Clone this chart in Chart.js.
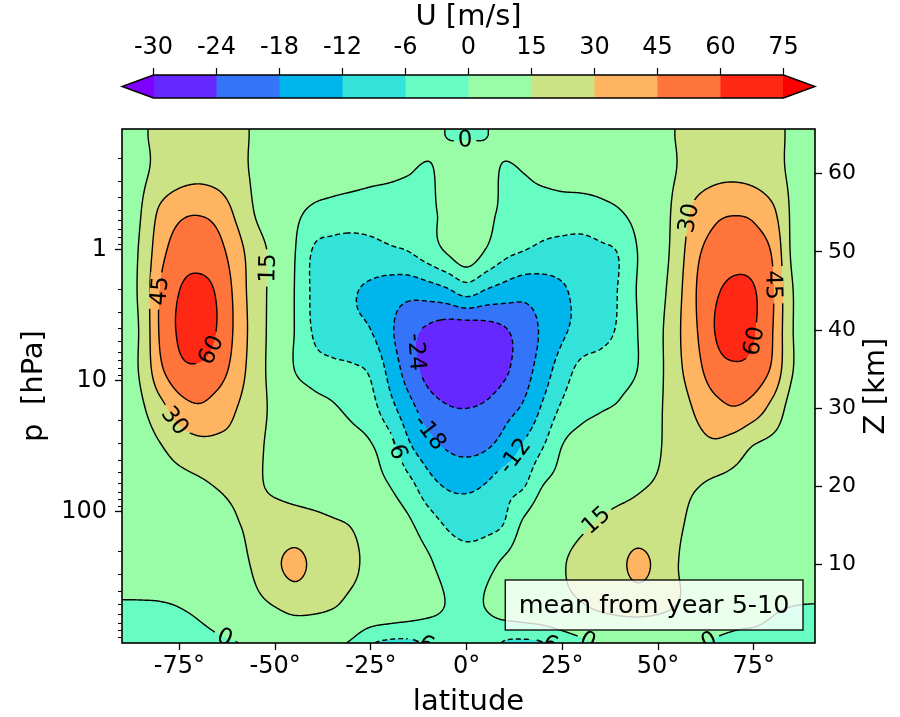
<!DOCTYPE html>
<html>
<head>
<meta charset="utf-8">
<script src="https://cdn.jsdelivr.net/npm/chart.js@4.4.0/dist/chart.umd.min.js"></script>
<style>
  body { margin: 0; background: #ffffff; }
</style>
</head>
<body>
<canvas id="graficoVento" width="900" height="717"></canvas>
<script>

// grade: latitude (graus) x altura (km), vento zonal U em m/s
const latitudes = [-90, -85, -80, -75, -70, -65, -60, -55, -50, -45, -40, -35, -30, -25, -20, -15, -10, -5, 0,
                   5, 10, 15, 20, 25, 30, 35, 40, 45, 50, 55, 60, 65, 70, 75, 80, 85, 90];
const alturasKm = [0, 5, 10, 15, 20, 25, 30, 35, 40, 45, 50, 55, 60, 65];

const ventoU = [
  [-2, -2, -2, -1.8, -1.5, -0.8, -0.1, 1.5, 3, 4, 3.5, 1.5, -0.8, -5.5, -6.8, -6.8, -5.5, -3, -2.5, -4, -6.4, -6.8, -6.3, -4, -1.5, 1, 3, 4, 3.5, 2, 0.5, -0.5, -1, -1, -1, -1.5, -1.5],
  [-0.3, -0.3, -0.2, 0.3, 1.5, 4, 8, 12, 16, 20, 19, 16.5, 12, 9, 7, 5, 2.5, -0.3, -1.5, 0.3, 4, 6, 8, 11, 14.5, 18, 20, 21, 19, 15, 10, 5, 3, 2, 0.8, 0.2, 0],
  [3, 3.5, 4, 5, 6, 8.5, 12, 17, 27, 34, 27, 21, 17, 12, 7, 3.5, 1, -2.5, -3.5, -2, 1.5, 5, 9, 14, 19, 23, 27, 34, 26, 15.5, 10, 7, 6, 5, 5, 5, 5],
  [4, 5, 6, 7, 9, 12, 14.5, 17, 20, 21, 19.5, 17, 14.5, 9, 4, 1, -3, -6.5, -8, -7.5, -5.5, 1.5, 6, 9, 13, 17, 20, 21, 19.5, 16.5, 12, 9, 7, 6, 5.5, 5, 4.5],
  [5, 6, 8, 10, 12.5, 15.5, 17, 16, 13.5, 11, 8.5, 6, 4, 2, 0, -4, -9.5, -12.5, -13, -11.5, -8, -6.2, 0.2, 2.5, 5, 8, 11, 14, 16, 17.5, 15.5, 12, 10, 8, 7, 6, 5],
  [7, 9, 14, 21, 25, 26, 25, 17.5, 12, 9, 6, 4, 2.5, 0.5, -3.5, -11, -15.5, -18.5, -19.5, -18.5, -15.5, -11, -6, 0.2, 3, 5, 7, 10, 14, 20, 25, 27, 22, 14, 11, 9, 8],
  [9, 13, 25, 38, 43, 38, 30, 20, 12, 7, 3, 0.8, -1.5, -4, -10, -16, -21, -23.5, -24, -23, -20, -17, -11, -5, -2, -0.5, 1, 5, 13, 22, 32, 40, 44, 38, 25, 10, 8],
  [11, 17, 42, 56, 58, 52, 38, 21, 10, 0, -3.5, -4.5, -5.2, -7, -14, -21, -26, -28.5, -29, -28, -25, -20.5, -15, -9, -4.5, -3.5, -2.5, 0.5, 11, 26, 40, 54, 58, 55, 42, 16, 10],
  [11, 17, 47, 62, 67, 59, 41, 22, 10, 0, -6.5, -9, -10.5, -12, -17, -22, -25, -27, -27.5, -26.5, -24.5, -21, -17, -13, -10, -8, -5, 0.5, 11, 27, 44, 60.5, 65, 61, 45, 16, 10],
  [11, 18, 46, 60, 64, 58, 40, 21, 11, 0, -7, -10, -11.5, -13, -15, -16, -15, -13, -9.5, -12.5, -14.5, -16, -15, -12.8, -10, -8, -5.5, 1, 9, 25, 45, 58, 63, 61, 46, 16, 10],
  [11, 17, 40, 52, 54, 50, 36, 21, 11, 0.5, -6.5, -8, -8.5, -8, -7, -6, -3, 0.5, 4, -0.5, -4.5, -6.2, -7.5, -8, -8, -7, -5.5, 0.5, 7, 22, 42, 50, 54, 52, 43, 13, 10],
  [11, 15, 33, 42, 44, 40, 27, 14, 8, 2, -1.5, -2.5, -3, -3, -2.5, -2, -1.2, 1.5, 3, 1.5, -1.2, -2, -3, -3, -3, -2, -0.5, 3, 9, 19, 35, 42, 44, 42, 33, 13, 10],
  [12, 13, 19, 24, 26, 24, 19, 13, 10, 7, 5, 3.5, 2.5, 1.5, 0.8, 0.1, -0.8, 2.5, 4, 2.5, -0.8, 0, 1.5, 2.5, 3, 3.5, 5, 8, 12, 15.3, 22, 26, 27, 25, 20, 13, 12],
  [12, 14, 17, 20, 21, 20, 17, 14, 12, 10, 9, 8, 7, 6, 5, 4, 2, -0.2, -0.4, -0.2, 2, 4, 6, 7, 8, 9, 10, 11, 13, 15.3, 18, 21, 22, 21, 18, 13.5, 12]
];

const niveis = [-30, -24, -18, -12, -6, 0, 15, 30, 45, 60, 75];
const cores = ["#6628fe", "#3374f8", "#00b4ec", "#33e3d9", "#66fcc2", "#99fca6", "#cce385", "#ffb462", "#ff743b", "#ff2814"];
const corAbaixo = "#8000ff";
const corAcima = "#ff0000";

// rótulos dos contornos: [latitude, altura km, texto]
const rotulos = [
  [-0.5, 64.8, "0"], [-52.5, 48, "15"], [-80.7, 45, "45"], [-67, 37.5, "60"], [-74, 29.2, "30"],
  [-12.5, 37.2, "-24"], [-9.4, 27, "-18"], [-18, 25, "-6"], [11.5, 24.3, "-12"], [33.2, 16, "15"],
  [58.5, 54.3, "30"], [79.4, 45.8, "45"], [73.7, 38.7, "60"], [-62.5, 1.4, "0"], [-9.9, 0.6, "-6"],
  [23.5, 0.6, "-6"], [32.4, 1.0, "0"], [62.7, 1.0, "0"]
];

const ticksLat = [-75, -50, -25, 0, 25, 50, 75];
const ticksPressao = [1, 10, 100];
const ticksZ = [10, 20, 30, 40, 50, 60];

const fonte = "'DejaVu Sans', sans-serif";


function catmull(p0, p1, p2, p3, t) {
    return p1 + 0.5 * t * (p2 - p0 + t * (2 * p0 - 5 * p1 + 4 * p2 - p3 + t * (3 * (p1 - p2) + p3 - p0)));
}

function valorU(lat, z) {
    const nl = latitudes.length, nz = alturasKm.length;
    let u = (lat - latitudes[0]) / (latitudes[1] - latitudes[0]);
    let v = (z - alturasKm[0]) / (alturasKm[1] - alturasKm[0]);
    u = Math.max(0, Math.min(nl - 1, u));
    v = Math.max(0, Math.min(nz - 1, v));
    const i = Math.min(Math.floor(u), nl - 2), j = Math.min(Math.floor(v), nz - 2);
    const tu = u - i, tv = v - j;
    const ci = (k) => Math.max(0, Math.min(nl - 1, k));
    const cj = (k) => Math.max(0, Math.min(nz - 1, k));
    const col = [];
    for (let k = -1; k <= 2; k++) {
        const r = ventoU[cj(j + k)];
        col.push(catmull(r[ci(i - 1)], r[ci(i)], r[ci(i + 1)], r[ci(i + 2)], tu));
    }
    return catmull(col[0], col[1], col[2], col[3], tv);
}

function hexRgb(h) {
    return [parseInt(h.slice(1, 3), 16), parseInt(h.slice(3, 5), 16), parseInt(h.slice(5, 7), 16)];
}
const rgbCores = cores.map(hexRgb);
const rgbAbaixo = hexRgb(corAbaixo), rgbAcima = hexRgb(corAcima);

function rgbPorValor(v) {
    if (v < niveis[0]) return rgbAbaixo;
    for (let k = 0; k < niveis.length - 1; k++) {
        if (v < niveis[k + 1]) return rgbCores[k];
    }
    return rgbAcima;
}

// marching squares, com as linhas encadeadas para o tracejado ficar contínuo
function tracarContorno(campo, nx, ny, nivel) {
    const pontos = new Map();
    const vizinhos = new Map();
    const liga = (k1, k2) => {
        if (!vizinhos.has(k1)) vizinhos.set(k1, []);
        if (!vizinhos.has(k2)) vizinhos.set(k2, []);
        vizinhos.get(k1).push(k2);
        vizinhos.get(k2).push(k1);
    };
    const arestaH = (i, j, v1, v2) => {
        const k = (j * nx + i) * 2;
        if (!pontos.has(k)) pontos.set(k, [i + (nivel - v1) / (v2 - v1), j]);
        return k;
    };
    const arestaV = (i, j, v1, v2) => {
        const k = (j * nx + i) * 2 + 1;
        if (!pontos.has(k)) pontos.set(k, [i, j + (nivel - v1) / (v2 - v1)]);
        return k;
    };
    for (let j = 0; j < ny - 1; j++) {
        for (let i = 0; i < nx - 1; i++) {
            const a = campo[j * nx + i], b = campo[j * nx + i + 1];
            const c = campo[(j + 1) * nx + i + 1], d = campo[(j + 1) * nx + i];
            const ca = a >= nivel, cb = b >= nivel, cc = c >= nivel, cd = d >= nivel;
            if (ca === cb && cb === cc && cc === cd) continue;
            const t = ca !== cb ? arestaH(i, j, a, b) : -1;
            const r = cb !== cc ? arestaV(i + 1, j, b, c) : -1;
            const bx = cd !== cc ? arestaH(i, j + 1, d, c) : -1;
            const l = ca !== cd ? arestaV(i, j, a, d) : -1;
            const lista = [t, r, bx, l].filter(k => k >= 0);
            if (lista.length === 2) {
                liga(lista[0], lista[1]);
            } else if (lista.length === 4) {
                const centro = (a + b + c + d) / 4 >= nivel;
                if (centro === ca) { liga(t, r); liga(bx, l); }
                else { liga(t, l); liga(r, bx); }
            }
        }
    }
    const usados = new Set();
    const seguir = (inicio) => {
        const linha = [inicio];
        usados.add(inicio);
        let atual = inicio;
        while (true) {
            const prox = vizinhos.get(atual).find(k => !usados.has(k));
            if (prox === undefined) break;
            usados.add(prox);
            linha.push(prox);
            atual = prox;
        }
        return linha;
    };
    const linhas = [];
    for (const [k, v] of vizinhos) {
        if (v.length === 1 && !usados.has(k)) linhas.push(seguir(k));
    }
    for (const k of vizinhos.keys()) {
        if (!usados.has(k)) {
            const l = seguir(k);
            l.push(l[0]);
            linhas.push(l);
        }
    }
    return linhas.map(l => l.map(k => pontos.get(k)));
}


const pluginCampo = {
    id: "campo",
    beforeDatasetsDraw(chart) {
        const { ctx, chartArea, scales } = chart;
        const x0 = Math.round(chartArea.left), y0 = Math.round(chartArea.top);
        const nx = Math.round(chartArea.right) - x0 + 1;
        const ny = Math.round(chartArea.bottom) - y0 + 1;

        const colLat = [], linZ = [];
        for (let i = 0; i < nx; i++) colLat.push(scales.x.getValueForPixel(x0 + i));
        for (let j = 0; j < ny; j++) linZ.push(scales.z.getValueForPixel(y0 + j));

        const campo = new Float32Array(nx * ny);
        for (let j = 0; j < ny; j++) {
            for (let i = 0; i < nx; i++) campo[j * nx + i] = valorU(colLat[i], linZ[j]);
        }

        const img = ctx.createImageData(nx - 1, ny - 1);
        for (let j = 0; j < ny - 1; j++) {
            for (let i = 0; i < nx - 1; i++) {
                const v = (campo[j * nx + i] + campo[j * nx + i + 1] + campo[(j + 1) * nx + i] + campo[(j + 1) * nx + i + 1]) / 4;
                const c = rgbPorValor(v);
                const p = (j * (nx - 1) + i) * 4;
                img.data[p] = c[0];
                img.data[p + 1] = c[1];
                img.data[p + 2] = c[2];
                img.data[p + 3] = 255;
            }
        }
        ctx.putImageData(img, x0, y0);

        const linhasPorNivel = new Map();
        for (const nivel of niveis) linhasPorNivel.set(nivel, tracarContorno(campo, nx, ny, nivel));

        // posição e ângulo dos rótulos, presos à linha mais próxima
        const tamRotulo = 23;
        ctx.font = tamRotulo + "px " + fonte;
        const caixas = [];
        for (const [lat, z, texto] of rotulos) {
            const nivel = Number(texto);
            const alvoX = scales.x.getPixelForValue(lat) - x0;
            const alvoY = scales.z.getPixelForValue(z) - y0;
            let melhor = null, dist = Infinity;
            for (const linha of linhasPorNivel.get(nivel) || []) {
                for (let k = 0; k < linha.length; k++) {
                    const d = (linha[k][0] - alvoX) ** 2 + (linha[k][1] - alvoY) ** 2;
                    if (d < dist) { dist = d; melhor = [linha, k]; }
                }
            }
            if (!melhor) continue;
            const [linha, k] = melhor;
            const pa = linha[Math.max(0, k - 8)], pb = linha[Math.min(linha.length - 1, k + 8)];
            let ang = Math.atan2(pb[1] - pa[1], pb[0] - pa[0]);
            if (ang > Math.PI / 2) ang -= Math.PI;
            if (ang <= -Math.PI / 2) ang += Math.PI;
            caixas.push({ x: x0 + linha[k][0], y: y0 + linha[k][1], ang, texto, w: ctx.measureText(texto).width });
        }

        ctx.save();
        ctx.beginPath();
        ctx.rect(x0, y0, nx - 1, ny - 1);
        for (const c of caixas) {
            const hw = c.w / 2 + 4, hh = 10;
            const cs = Math.cos(c.ang), sn = Math.sin(c.ang);
            const cantos = [[-hw, -hh], [-hw, hh], [hw, hh], [hw, -hh]]
                .map(([u, v]) => [c.x + u * cs - v * sn, c.y + u * sn + v * cs]);
            ctx.moveTo(cantos[0][0], cantos[0][1]);
            for (let k = 1; k < 4; k++) ctx.lineTo(cantos[k][0], cantos[k][1]);
            ctx.closePath();
        }
        ctx.clip("evenodd");
        ctx.strokeStyle = "#000";
        ctx.lineWidth = 1.4;
        for (const nivel of niveis) {
            ctx.setLineDash(nivel < 0 ? [5, 3] : []);
            ctx.beginPath();
            for (const linha of linhasPorNivel.get(nivel)) {
                ctx.moveTo(x0 + linha[0][0], y0 + linha[0][1]);
                for (let k = 1; k < linha.length; k++) ctx.lineTo(x0 + linha[k][0], y0 + linha[k][1]);
            }
            ctx.stroke();
        }
        ctx.restore();

        ctx.save();
        ctx.beginPath();
        ctx.rect(x0, y0, nx - 1, ny - 1);
        ctx.clip();
        ctx.fillStyle = "#000";
        ctx.textAlign = "center";
        ctx.textBaseline = "middle";
        ctx.font = tamRotulo + "px " + fonte;
        for (const c of caixas) {
            ctx.save();
            ctx.translate(c.x, c.y);
            ctx.rotate(c.ang);
            ctx.fillText(c.texto, 0, 1);
            ctx.restore();
        }
        ctx.restore();
    },

    afterDraw(chart) {
        const { ctx, chartArea, scales } = chart;
        const a = chartArea;

        // moldura
        ctx.save();
        ctx.strokeStyle = "#000";
        ctx.lineWidth = 1.6;
        ctx.strokeRect(a.left, a.top, a.right - a.left, a.bottom - a.top);

        // ticks menores do eixo log
        ctx.lineWidth = 1;
        for (const dec of [0.1, 1, 10, 100]) {
            for (let m = 2; m <= 9; m++) {
                const v = m * dec;
                if (v < scales.y.min || v > scales.y.max) continue;
                const y = Math.round(scales.y.getPixelForValue(v)) + 0.5;
                ctx.beginPath();
                ctx.moveTo(a.left - 4, y);
                ctx.lineTo(a.left, y);
                ctx.stroke();
            }
        }

        // caixa de texto
        const txt = "mean from year 5-10";
        ctx.font = "25.5px " + fonte;
        const tw = ctx.measureText(txt).width;
        const bx1 = a.right - 12, bx0 = bx1 - tw - 27;
        const by1 = a.bottom - 13, by0 = by1 - 50;
        ctx.fillStyle = "rgba(255,255,255,0.8)";
        ctx.fillRect(bx0, by0, bx1 - bx0, by1 - by0);
        ctx.lineWidth = 1.3;
        ctx.strokeRect(bx0, by0, bx1 - bx0, by1 - by0);
        ctx.fillStyle = "#000";
        ctx.textAlign = "center";
        ctx.textBaseline = "middle";
        ctx.fillText(txt, (bx0 + bx1) / 2, (by0 + by1) / 2 + 1);

        // barra de cores
        const total = a.right - a.left;
        const seta = total / 1.1 * 0.05;
        const cx0 = a.left + seta, cx1 = a.right - seta;
        const yt = 75, yb = 98, ym = (yt + yb) / 2;
        const passo = (cx1 - cx0) / cores.length;
        cores.forEach((c, k) => {
            ctx.fillStyle = c;
            ctx.fillRect(cx0 + k * passo, yt, passo + 0.6, yb - yt);
        });
        ctx.fillStyle = corAbaixo;
        ctx.beginPath();
        ctx.moveTo(cx0 + 0.5, yt); ctx.lineTo(a.left, ym); ctx.lineTo(cx0 + 0.5, yb);
        ctx.closePath(); ctx.fill();
        ctx.fillStyle = corAcima;
        ctx.beginPath();
        ctx.moveTo(cx1 - 0.5, yt); ctx.lineTo(a.right, ym); ctx.lineTo(cx1 - 0.5, yb);
        ctx.closePath(); ctx.fill();
        ctx.strokeStyle = "#000";
        ctx.lineWidth = 1.4;
        ctx.beginPath();
        ctx.moveTo(cx0, yt); ctx.lineTo(cx1, yt); ctx.lineTo(a.right, ym); ctx.lineTo(cx1, yb);
        ctx.lineTo(cx0, yb); ctx.lineTo(a.left, ym); ctx.closePath();
        ctx.stroke();

        ctx.lineWidth = 1.2;
        ctx.fillStyle = "#000";
        ctx.font = "24px " + fonte;
        ctx.textBaseline = "middle";
        niveis.forEach((n, k) => {
            const x = cx0 + k * passo;
            ctx.beginPath();
            ctx.moveTo(x, yt);
            ctx.lineTo(x, yt - 7);
            ctx.stroke();
            ctx.fillText(String(n), x, 48);
        });
        ctx.font = "29px " + fonte;
        ctx.fillText("U [m/s]", (a.left + a.right) / 2, 17);

        // título do eixo da direita (lido de baixo para cima)
        ctx.translate(876, (a.top + a.bottom) / 2);
        ctx.rotate(-Math.PI / 2);
        ctx.fillText("Z [km]", 0, 0);
        ctx.restore();
    }
};


const grade = {
    display: true,
    drawOnChartArea: false,
    drawTicks: true,
    tickLength: 7,
    tickColor: "#000",
    tickWidth: 1.3
};

new Chart(document.getElementById("graficoVento"), {
    type: "scatter",
    data: {
        datasets: [{ data: [], yAxisID: "z", pointRadius: 0 }]
    },
    options: {
        responsive: false,
        devicePixelRatio: 1,
        animation: false,
        events: [],
        layout: { padding: { top: 129, left: 0, right: 0, bottom: 0 } },
        plugins: { legend: { display: false }, tooltip: { enabled: false } },
        scales: {
            x: {
                type: "linear",
                min: -90,
                max: 91,
                afterBuildTicks: (s) => { s.ticks = ticksLat.map(v => ({ value: v })); },
                afterFit: (s) => { s.height = 74; },
                grid: grade,
                border: { display: false },
                ticks: {
                    color: "#000",
                    font: { family: fonte, size: 24 },
                    padding: 2,
                    maxRotation: 0,
                    autoSkip: false,
                    callback: (v) => v + "°"
                },
                title: {
                    display: true,
                    text: "latitude",
                    color: "#000",
                    font: { family: fonte, size: 29, lineHeight: 1 },
                    padding: { top: 0, bottom: 0 }
                }
            },
            y: {
                type: "logarithmic",
                position: "left",
                min: 0.1205,
                max: 1000,
                reverse: true,
                afterBuildTicks: (s) => { s.ticks = ticksPressao.map(v => ({ value: v })); },
                afterFit: (s) => { s.width = 122; },
                grid: grade,
                border: { display: false },
                ticks: {
                    color: "#000",
                    font: { family: fonte, size: 24 },
                    padding: 8,
                    autoSkip: false,
                    callback: (v) => String(v)
                },
                title: {
                    display: true,
                    text: "p  [hPa]",
                    color: "#000",
                    font: { family: fonte, size: 29, lineHeight: 1 },
                    padding: { top: 20, bottom: 0 }
                }
            },
            z: {
                type: "linear",
                position: "right",
                min: 0,
                max: 65.7,
                afterBuildTicks: (s) => { s.ticks = ticksZ.map(v => ({ value: v })); },
                afterFit: (s) => { s.width = 85; },
                grid: grade,
                border: { display: false },
                ticks: {
                    color: "#000",
                    font: { family: fonte, size: 22 },
                    padding: 6,
                    autoSkip: false
                }
            }
        }
    },
    plugins: [pluginCampo]
});
</script>
</body>
</html>
